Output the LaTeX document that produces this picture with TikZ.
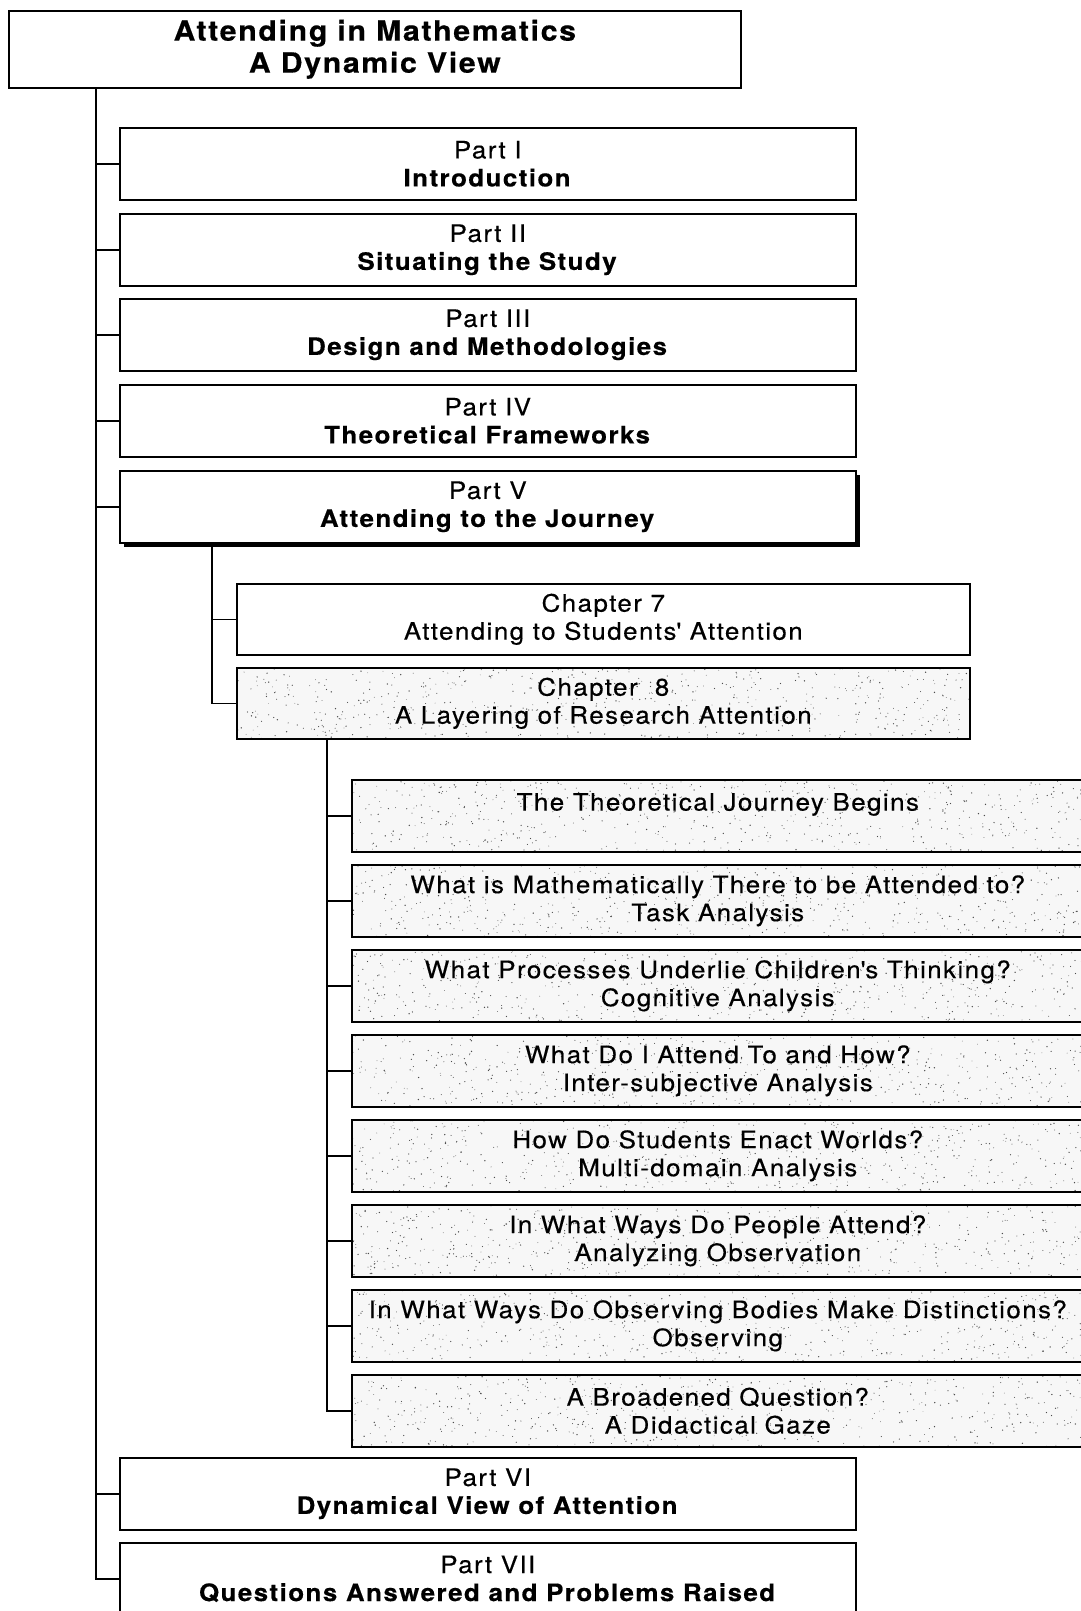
\documentclass[tikz,border=0pt]{standalone}
\usepackage{fontspec}
\setmainfont[LetterSpace=6, FakeStretch=1.08, FakeBold=0.4]{TeX Gyre Heros}
\usetikzlibrary{shadows}
\begin{document}
\begin{tikzpicture}[x=1pt,y=-1pt,
  frame/.style={draw, line width=1.6pt, fill=white, anchor=north west,
    align=center, inner sep=0pt, minimum height=72pt,
    font=\fontsize{24}{28}\selectfont},
  titlebox/.style={frame, minimum width=732pt, minimum height=77pt,
    font=\fontsize{28}{32}\selectfont\bfseries},
  partbox/.style={frame, minimum width=736pt},
  chapbox/.style={frame, minimum width=733pt, minimum height=71pt},
  speckled/.style={fill=black!3,
    path picture={
      \foreach \k in {1,...,650}{
        \pgfmathsetmacro\sx{rnd*745}
        \pgfmathsetmacro\sy{rnd*75}
        \pgfmathsetmacro\sr{0.35+0.4*rnd}
        \fill[black!70] (path picture bounding box.south west) ++(\sx pt,\sy pt) circle (\sr pt);
      }}},
  subbox/.style={frame, minimum width=732pt, speckled},
  link/.style={line width=1.6pt, line join=miter},
]
\pgfmathsetseed{17}
\useasboundingbox (0,0) rectangle (1080,1611);

% title
\node[titlebox] (top) at (8,10) {Attending in Mathematics\\A Dynamic View};

% parts
\node[partbox] (p1) at (119,127) {Part I\\\textbf{Introduction}};
\node[partbox] (p2) at (119,213) {Part II\\\textbf{Situating the Study}};
\node[partbox] (p3) at (119,298) {Part III\\\textbf{Design and Methodologies}};
\node[partbox] (p4) at (119,384) {Part IV\\\textbf{Theoretical Frameworks}};
\node[partbox, drop shadow={shadow xshift=4.5pt, shadow yshift=-4pt, fill=black, opacity=1}]
  (p5) at (119,470) {Part V\\\textbf{Attending to the Journey}};
\node[partbox] (p6) at (119,1457) {Part VI\\\textbf{Dynamical View of Attention}};
\node[partbox] (p7) at (119,1542) {Part VII\\\textbf{Questions Answered and Problems Raised}};

% chapters of part V
\node[chapbox] (c7) at (236,583) {Chapter 7\\Attending to Students\textquotesingle{} Attention};
\node[chapbox, speckled] (c8) at (236,667) {Chapter\ \ 8\\A Layering of Research Attention};

% sections of chapter 8
\node[subbox] (s1) at (351,779) {The Theoretical Journey Begins\\\mbox{}};
\node[subbox] (s2) at (351,864) {What is Mathematically There to be Attended to?\\Task Analysis};
\node[subbox] (s3) at (351,949) {What Processes Underlie Children\textquotesingle{}s Thinking?\\Cognitive Analysis};
\node[subbox] (s4) at (351,1034) {What Do I Attend To and How?\\Inter-subjective Analysis};
\node[subbox] (s5) at (351,1119) {How Do Students Enact Worlds?\\Multi-domain Analysis};
\node[subbox] (s6) at (351,1204) {In What Ways Do People Attend?\\Analyzing Observation};
\node[subbox] (s7) at (351,1289) {In What Ways Do Observing Bodies Make Distinctions?\\Observing};
\node[subbox] (s8) at (351,1374) {A Broadened Question?\\A Didactical Gaze};

% tree spines
\coordinate (spine) at (96,0);
\coordinate (pvspine) at (212,0);
\coordinate (chspine) at (327,0);

\draw[link] (top.south -| spine) |- (p7.west);
\foreach \n in {p1,p2,p3,p4,p5,p6}
  \draw[link] (spine |- \n.west) -- (\n.west);

\draw[link] (p5.south -| pvspine) |- (c8.west);
\draw[link] (pvspine |- c7.west) -- (c7.west);

\draw[link] (c8.south -| chspine) |- (s8.west);
\foreach \n in {s1,s2,s3,s4,s5,s6,s7}
  \draw[link] (chspine |- \n.west) -- (\n.west);
\end{tikzpicture}
\end{document}
